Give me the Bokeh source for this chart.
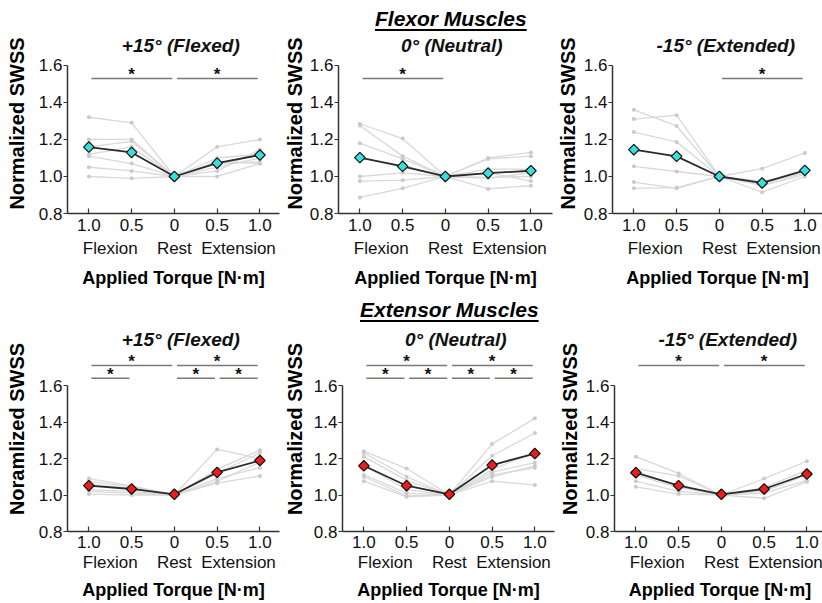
from bokeh.plotting import figure
from bokeh.models import (FixedTicker, LinearAxis, Range1d, Div, PrintfTickFormatter)
from bokeh.layouts import column, row
from bokeh.core.properties import value
from bokeh.embed import file_html
from bokeh.resources import INLINE

# ---------------- data ----------------
TORQUE_POS = [0, 1, 2, 3, 4]
TORQUE_LABELS = ["1.0", "0.5", "0", "0.5", "1.0"]
GROUP_POS = [0.5, 2.0, 3.5]
GROUP_LABELS = ["Flexion", "Rest", "Extension"]
Y_TICKS = [0.8, 1.0, 1.2, 1.4, 1.6]

flexor_p15_mean = [1.159, 1.130, 1.000, 1.072, 1.116]
flexor_p15_subjects = [
    [1.32, 1.29, 1.00, 1.10, 1.12],
    [1.20, 1.20, 1.00, 1.16, 1.20],
    [1.16, 1.19, 1.00, 1.05, 1.10],
    [1.12, 1.16, 1.00, 1.07, 1.08],
    [1.11, 1.07, 1.00, 1.03, 1.145],
    [1.05, 1.03, 1.00, 1.08, 1.07],
    [1.00, 0.99, 1.00, 1.00, 1.07],
]
flexor_p15_sig = [(0, 2, 1), (2, 4, 1)]

flexor_0_mean = [1.102, 1.055, 1.000, 1.018, 1.031]
flexor_0_subjects = [
    [1.285, 1.205, 1.00, 1.10, 1.13],
    [1.275, 1.11, 1.00, 1.095, 1.11],
    [1.18, 1.095, 1.00, 1.04, 1.04],
    [1.00, 1.02, 1.00, 0.995, 1.00],
    [0.975, 0.98, 1.00, 1.02, 0.975],
    [0.887, 0.936, 1.00, 0.933, 0.95],
    [1.10, 1.06, 1.00, 0.99, 1.02],
]
flexor_0_sig = [(0, 2, 1)]

flexor_m15_mean = [1.145, 1.109, 1.000, 0.965, 1.033]
flexor_m15_subjects = [
    [1.36, 1.273, 1.00, 0.96, 1.02],
    [1.31, 1.331, 1.00, 0.95, 1.01],
    [1.24, 1.187, 1.00, 1.042, 1.127],
    [1.055, 1.027, 1.00, 0.915, 1.00],
    [0.97, 0.936, 1.00, 0.975, 1.02],
    [0.936, 0.94, 1.00, 0.96, 1.03],
]
flexor_m15_sig = [(2, 4, 1)]

extensor_p15_mean = [1.051, 1.033, 1.004, 1.124, 1.189]
extensor_p15_subjects = [
    [1.09, 1.05, 1.00, 1.25, 1.20],
    [1.075, 1.045, 1.00, 1.14, 1.245],
    [1.06, 1.035, 1.00, 1.12, 1.23],
    [1.03, 1.02, 1.00, 1.09, 1.15],
    [1.02, 1.01, 1.00, 1.075, 1.18],
    [1.005, 1.00, 1.00, 1.065, 1.104],
]
extensor_p15_sig = [(0, 2, 2), (2, 4, 2), (0, 1, 1), (2, 3, 1), (3, 4, 1)]

extensor_0_mean = [1.160, 1.051, 1.004, 1.164, 1.227]
extensor_0_subjects = [
    [1.24, 1.145, 1.00, 1.28, 1.42],
    [1.23, 1.10, 1.00, 1.215, 1.34],
    [1.21, 1.08, 1.00, 1.14, 1.236],
    [1.16, 1.03, 1.00, 1.125, 1.178],
    [1.11, 1.01, 1.00, 1.11, 1.149],
    [1.10, 0.995, 1.00, 1.10, 1.16],
    [1.076, 0.99, 1.00, 1.076, 1.055],
]
extensor_0_sig = [(0, 2, 2), (2, 4, 2), (0, 1, 1), (1, 2, 1), (2, 3, 1), (3, 4, 1)]

extensor_m15_mean = [1.122, 1.051, 1.004, 1.033, 1.115]
extensor_m15_subjects = [
    [1.21, 1.118, 1.00, 1.09, 1.185],
    [1.145, 1.105, 1.00, 1.04, 1.136],
    [1.11, 1.04, 1.00, 1.02, 1.11],
    [1.076, 1.02, 1.00, 1.01, 1.08],
    [1.045, 1.005, 1.00, 0.982, 1.073],
]
extensor_m15_sig = [(0, 2, 2), (2, 4, 2)]

# ---------------- style ----------------
FONT = "Liberation Sans"
CYAN = "#35e0df"
RED = "#ee1c1c"
# the frame reaches up to the top of each figure so the panel titles live inside it
TOP = dict(y_end=1.7726, fh=180, bottom=86, sig_y={1: 1.53}, title_y=1.708,
           std1=5, std2=5, std3=7)
BOT = dict(y_end=1.9233, fh=205, bottom=72, sig_y={1: 1.64, 2: 1.71}, title_y=1.852,
           std1=4, std2=2, std3=5)
PX_PER_STEP = 42.75


def make_panel(title, ylabel, mean, subjects, sig, color, cfg, left, fw, ystd):
    x_end = -0.5 + fw / PX_PER_STEP
    p = figure(frame_width=fw, frame_height=cfg["fh"], title=None,
               x_range=Range1d(-0.5, x_end), y_range=Range1d(0.8, cfg["y_end"]),
               x_axis_type=None, y_axis_type=None,
               output_backend="svg", toolbar_location=None,
               min_border_left=left, min_border_right=1,
               min_border_top=0, min_border_bottom=cfg["bottom"])
    p.outline_line_color = None
    p.background_fill_color = "white"
    p.border_fill_color = "white"

    # panel title
    p.text([2.15], [cfg["title_y"]], text=[title], text_align="center",
           text_baseline="alphabetic", text_font=value(FONT), text_font_size="19px",
           text_font_style="bold italic", text_color="#111")

    # y axis
    ya = LinearAxis(ticker=FixedTicker(ticks=Y_TICKS), bounds=(0.8, 1.6),
                    formatter=PrintfTickFormatter(format="%.1f"),
                    axis_label=ylabel)
    ya.axis_line_width = 1.5
    ya.axis_line_color = "#333"
    ya.major_tick_out = 4
    ya.major_tick_in = 0
    ya.major_tick_line_color = "#333"
    ya.major_tick_line_width = 1.2
    ya.minor_tick_line_color = None
    ya.major_label_standoff = 1
    ya.major_label_text_font = FONT
    ya.major_label_text_font_size = "17px"
    ya.major_label_text_color = "#111"
    ya.axis_label_text_font = FONT
    ya.axis_label_text_font_size = "20px"
    ya.axis_label_text_font_style = "bold"
    ya.axis_label_text_color = "#000"
    ya.axis_label_standoff = ystd
    p.add_layout(ya, "left")

    # x axis (torque values)
    xa = LinearAxis(ticker=FixedTicker(ticks=TORQUE_POS),
                    major_label_overrides={k: v for k, v in zip(TORQUE_POS, TORQUE_LABELS)})
    xa.axis_line_width = 1.5
    xa.axis_line_color = "#333"
    xa.major_tick_in = 5
    xa.major_tick_out = 0
    xa.major_tick_line_color = "#333"
    xa.major_tick_line_width = 1.2
    xa.minor_tick_line_color = None
    xa.major_label_standoff = cfg["std1"]
    xa.major_label_text_font = FONT
    xa.major_label_text_font_size = "17px"
    xa.major_label_text_color = "#111"
    p.add_layout(xa, "below")

    # second x axis (group names + axis title)
    xb = LinearAxis(ticker=FixedTicker(ticks=GROUP_POS),
                    major_label_overrides={k: v for k, v in zip(GROUP_POS, GROUP_LABELS)},
                    axis_label="Applied Torque [N·m]")
    xb.axis_line_color = None
    xb.major_tick_line_color = None
    xb.minor_tick_line_color = None
    xb.major_tick_in = 0
    xb.major_tick_out = 0
    xb.major_label_standoff = cfg["std2"]
    xb.major_label_text_font = FONT
    xb.major_label_text_font_size = "17px"
    xb.major_label_text_color = "#111"
    xb.axis_label_text_font = FONT
    xb.axis_label_text_font_size = "18px"
    xb.axis_label_text_font_style = "bold"
    xb.axis_label_text_color = "#000"
    xb.axis_label_standoff = cfg["std3"]
    p.add_layout(xb, "below")

    # individual subjects
    xs = [TORQUE_POS for _ in subjects]
    p.multi_line(xs, subjects, line_color="#d9d9d9", line_width=1.3)
    px = [x for s in subjects for x in TORQUE_POS]
    py = [y for s in subjects for y in s]
    p.scatter(px, py, size=4, fill_color="#cacaca", line_color=None)

    # mean
    p.line(TORQUE_POS, mean, line_color="#2b2b2b", line_width=1.8)
    p.scatter(TORQUE_POS, mean, marker="square", angle=0.785398, size=7.5,
              fill_color=color, line_color="#111", line_width=1.2)

    # significance bars
    x0 = [a + 0.06 for a, b, lv in sig]
    x1 = [b - 0.05 for a, b, lv in sig]
    yy = [cfg["sig_y"][lv] for a, b, lv in sig]
    p.segment(x0, yy, x1, yy, line_color="#7a7a7a", line_width=1.5)
    p.text([(a + b) / 2 for a, b, lv in sig], yy, text=["*"] * len(sig),
           text_align="center", text_baseline="middle", y_offset=-4,
           text_font=value(FONT), text_font_size="17px", text_font_style="bold",
           text_color="#111")
    return p


def header(text, left, top, h):
    html = (f'<div style="margin-left:{left}px;margin-top:{top}px;'
            f'font-family:\'Liberation Sans\',Arial,sans-serif;'
            f'font-size:21px;font-weight:bold;font-style:italic;text-decoration:underline;'
            f'text-decoration-thickness:2px;text-underline-offset:3px;'
            f'line-height:22px;color:#000;white-space:nowrap">{text}</div>')
    return Div(text=html, width=820, height=h, margin=0)


f1 = make_panel("+15° (Flexed)", "Normalized SWSS", flexor_p15_mean, flexor_p15_subjects,
                flexor_p15_sig, CYAN, TOP, 67, 212, 8)
f2 = make_panel("0° (Neutral)", "Normalized SWSS", flexor_0_mean, flexor_0_subjects,
                flexor_0_sig, CYAN, TOP, 54, 214, 1)
f3 = make_panel("-15° (Extended)", "Normalized SWSS", flexor_m15_mean, flexor_m15_subjects,
                flexor_m15_sig, CYAN, TOP, 59, 210, 2)
f4 = make_panel("+15° (Flexed)", "Noramlized SWSS", extensor_p15_mean, extensor_p15_subjects,
                extensor_p15_sig, RED, BOT, 67, 212, 8)
f5 = make_panel("0° (Neutral)", "Normalized SWSS", extensor_0_mean, extensor_0_subjects,
                extensor_0_sig, RED, BOT, 61, 212, 5)
f6 = make_panel("-15° (Extended)", "Normalized SWSS", extensor_m15_mean, extensor_m15_subjects,
                extensor_m15_sig, RED, BOT, 55, 211, 2)

layout = column(
    header("Flexor Muscles", 375, 8, 33),
    row(f1, f2, f3, spacing=0),
    header("Extensor Muscles", 360, 0, 27),
    row(f4, f5, f6, spacing=0),
    spacing=0,
)

open("out.html", "w").write(file_html(layout, INLINE))
